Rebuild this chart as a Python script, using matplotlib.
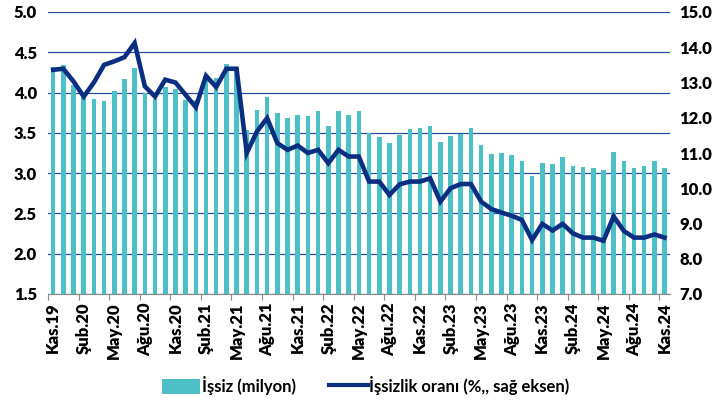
import matplotlib
matplotlib.use("Agg")
import matplotlib.pyplot as plt
from matplotlib.lines import Line2D
from matplotlib.patches import Patch
import numpy as np

# monthly data, Kas.19 .. Kas.24
tick_labels = ["Kas.19", "Şub.20", "May.20", "Ağu.20", "Kas.20", "Şub.21", "May.21",
               "Ağu.21", "Kas.21", "Şub.22", "May.22", "Ağu.22", "Kas.22", "Şub.23",
               "May.23", "Ağu.23", "Kas.23", "Şub.24", "May.24", "Ağu.24", "Kas.24"]

issiz = [4.32, 4.34, 4.10, 3.96, 3.92, 3.90, 4.02, 4.17, 4.31, 4.00,
         3.92, 4.07, 4.05, 3.91, 3.91, 4.16, 4.18, 4.36, 4.30, 3.53,
         3.78, 3.94, 3.75, 3.69, 3.72, 3.71, 3.77, 3.58, 3.77, 3.72,
         3.77, 3.50, 3.45, 3.37, 3.47, 3.55, 3.56, 3.59, 3.39, 3.46,
         3.48, 3.56, 3.35, 3.24, 3.25, 3.22, 3.15, 2.96, 3.13, 3.11,
         3.20, 3.09, 3.08, 3.07, 3.04, 3.26, 3.15, 3.06, 3.09, 3.15,
         3.07]

oran = [13.36, 13.39, 13.03, 12.60, 13.00, 13.50, 13.60, 13.72, 14.12, 12.89,
        12.60, 13.08, 13.00, 12.65, 12.30, 13.19, 12.87, 13.39, 13.39, 11.00,
        11.61, 11.99, 11.28, 11.09, 11.21, 11.00, 11.09, 10.71, 11.09, 10.90,
        10.90, 10.19, 10.19, 9.81, 10.11, 10.19, 10.19, 10.28, 9.62, 10.00,
        10.12, 10.12, 9.62, 9.41, 9.31, 9.22, 9.10, 8.53, 8.99, 8.80,
        8.99, 8.72, 8.60, 8.60, 8.51, 9.20, 8.79, 8.60, 8.60, 8.69,
        8.60]

bar_color = "#4dbfc7"
line_color = "#0b2f80"
grid_color = "#2b4b9b"
fnt = "Lato"

x = np.arange(len(issiz))

fig = plt.figure(figsize=(7.17, 4.0), dpi=100)
ax = fig.add_axes([0.067, 0.265, 0.867, 0.705])
ax2 = ax.twinx()

ax.bar(x, issiz, width=0.45, color=bar_color, zorder=2)
ax2.plot(x, oran, color=line_color, linewidth=3.3, solid_joinstyle="miter", zorder=3)

ax.set_xlim(-0.5, len(issiz) - 0.5)
ax.set_ylim(1.5, 5.0)
ax2.set_ylim(7.0, 15.0)

ax.set_yticks(np.arange(1.5, 5.01, 0.5))
ax.set_yticklabels([f"{v:.1f}" for v in np.arange(1.5, 5.01, 0.5)])
ax2.set_yticks(np.arange(7, 15.01, 1.0))
ax2.set_yticklabels([f"{v:.1f}" for v in np.arange(7, 15.01, 1.0)])

ax.set_axisbelow(True)
ax.yaxis.grid(True, color=grid_color, linewidth=0.9)

# tick marks at month boundaries, labels on the bars
ax.set_xticks(x[::3] - 0.5)
ax.set_xticklabels([])
ax.set_xticks(x[::3], minor=True)
ax.set_xticklabels(tick_labels, minor=True, rotation=90, fontsize=12, fontweight="heavy",
                   family=fnt)
ax.tick_params(axis="x", which="major", length=4, color="#888888")
ax.tick_params(axis="x", which="minor", length=0, pad=6)

for a in (ax, ax2):
    for s in ("top", "left", "right"):
        a.spines[s].set_visible(False)
    a.spines["bottom"].set_color("#888888")
ax2.spines["bottom"].set_visible(False)

ax.tick_params(axis="y", length=0, pad=8)
ax2.tick_params(axis="y", length=0, pad=7)
for lab in ax.get_yticklabels() + ax2.get_yticklabels():
    lab.set_fontweight("heavy")
    lab.set_fontsize(12)
    lab.set_family(fnt)

handles = [Patch(facecolor=bar_color, edgecolor="none"),
           Line2D([0], [0], color=line_color, linewidth=3)]
fig.legend(handles, ["İşsiz (milyon)", "İşsizlik oranı (%,, sağ eksen)"],
           loc="lower center", bbox_to_anchor=(0.51, -0.025), ncol=2, frameon=False,
           prop={"family": fnt, "size": 12, "weight": "bold"},
           handlelength=2.3, handleheight=1.0, handletextpad=0.1, columnspacing=2.0)

fig.savefig("out.png", dpi=100)
